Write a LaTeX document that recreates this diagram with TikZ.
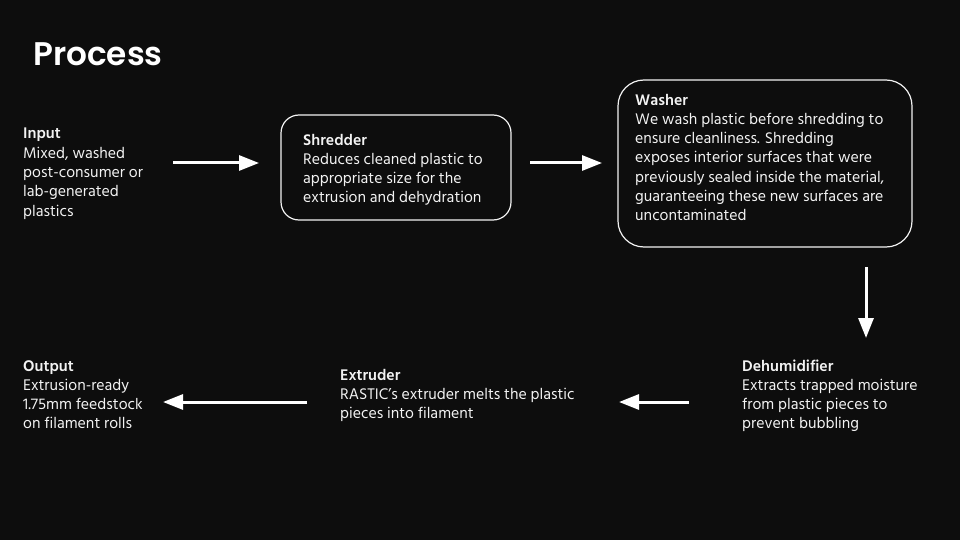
\documentclass[tikz,border=0pt]{standalone}
\usepackage{fontspec}
\setmainfont{Hind Madurai}
\newfontfamily\titlefont{Poppins}[UprightFont=* SemiBold]
\usetikzlibrary{arrows.meta}
\definecolor{bg}{HTML}{0D0D0D}
\definecolor{fg}{HTML}{F2F2F2}
\tikzset{
  txt/.style={anchor=base west, align=left, inner sep=0pt, text=fg,
    font=\fontsize{15.8}{19.3}\selectfont},
  stepframe/.style={draw=fg, line width=1.2pt},
  flow/.style={draw=white, line width=3pt, -{Triangle[length=20pt,width=15pt]}},
}
\begin{document}
\begin{tikzpicture}[x=1pt,y=-1pt]
\useasboundingbox (0,0) rectangle (960,540);
\fill[bg] (0,0) rectangle (960,540);

\node[anchor=base west, inner sep=0pt, text=white, font=\titlefont\fontsize{32.7}{40}\selectfont] (title) at (33,66) {Process};

% boxes
\draw[stepframe, rounded corners=18pt] (281,115) rectangle (511,220);
\draw[stepframe, rounded corners=26pt] (618,80) rectangle (912,247);

% texts (anchored at the baseline of their last line)
\node[txt] (input) at (23,216.2) {\textbf{Input}\\Mixed, washed\\post-consumer or\\lab-generated\\plastics};
\node[txt] (shredder) at (303,202.9) {\textbf{Shredder}\\Reduces cleaned plastic to\\appropriate size for the\\extrusion and dehydration};
\node[txt] (washer) at (635,220.8) {\textbf{Washer}\\We wash plastic before shredding to\\ensure cleanliness. Shredding\\exposes interior surfaces that were\\previously sealed inside the material,\\guaranteeing these new surfaces are\\uncontaminated};
\node[txt] (dehum) at (742,428.9) {\textbf{Dehumidifier}\\Extracts trapped moisture\\from plastic pieces to\\prevent bubbling};
\node[txt] (extruder) at (340,418.6) {\textbf{Extruder}\\RASTIC’s extruder melts the plastic\\pieces into filament};
\node[txt] (output) at (23,428.9) {\textbf{Output}\\Extrusion-ready\\1.75mm feedstock\\on filament rolls};

% arrow ends
\coordinate (a1s) at (173,163); \coordinate (a1e) at (259,163);
\coordinate (a2s) at (530,163); \coordinate (a2e) at (602,163);
\coordinate (a3s) at (866,267); \coordinate (a3e) at (866,338);
\coordinate (a4s) at (689,402); \coordinate (a4e) at (619,402);
\coordinate (a5s) at (307,402); \coordinate (a5e) at (163,402);

\draw[flow] (a1s) -- (a1e);
\draw[flow] (a2s) -- (a2e);
\draw[flow] (a3s) -- (a3e);
\draw[flow] (a4s) -- (a4e);
\draw[flow] (a5s) -- (a5e);
\end{tikzpicture}
\end{document}
